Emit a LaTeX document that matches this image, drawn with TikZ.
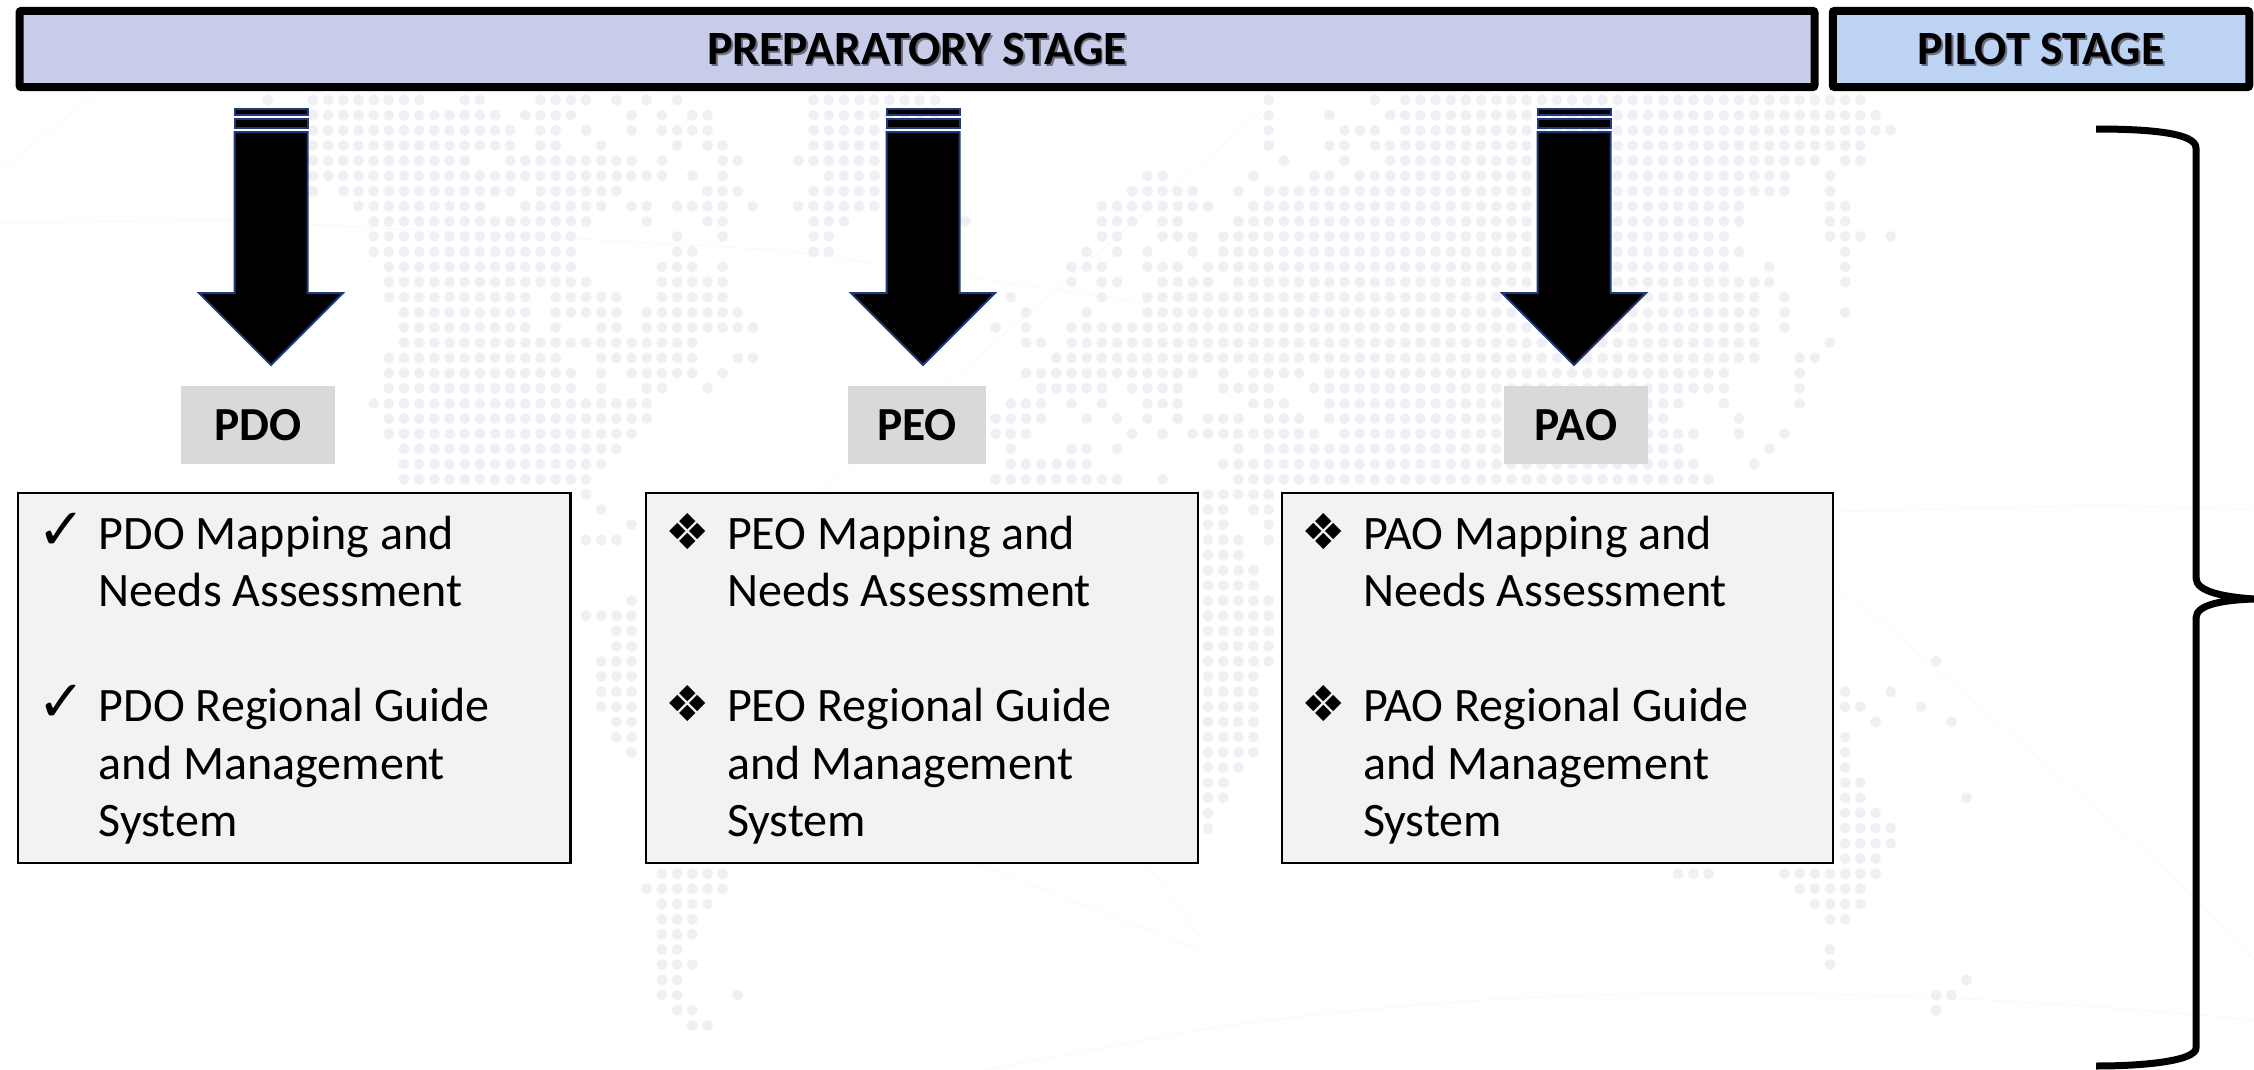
\documentclass[tikz,border=0pt]{standalone}
\usepackage{fontspec}
\setmainfont{Carlito}
\newfontfamily\symbolfont{DejaVu Sans}
\definecolor{prepfill}{HTML}{C7CCE8}
\definecolor{pilotfill}{HTML}{BDD3F3}
\definecolor{arrowline}{HTML}{1F3A7A}
\definecolor{labelfill}{HTML}{D9D9D9}
\definecolor{itemfill}{HTML}{F2F2F2}
\definecolor{mapdot}{HTML}{EFEFF5}
\definecolor{mapline}{HTML}{F9F9FA}
\definecolor{shadowgrey}{HTML}{6A6C7C}
\newcommand{\shadowed}[1]{\makebox[0pt][l]{\hspace{0.5pt}\raisebox{-0.6pt}{\textcolor{shadowgrey}{#1}}}#1}
\newcommand{\itemmark}[2]{\spaceskip=0.226em\relax\rule{0pt}{10.75pt}\makebox[16.4pt][l]{\hspace*{-1pt}\smash{\symbolfont\fontsize{#1}{16.36}\selectfont #2}}}
\newcommand{\itemgap}{\hspace*{16.4pt}}
\tikzset{
  banner/.style={draw=black,line width=0.8mm,rounded corners=0.2mm,inner sep=0,minimum height=7.63mm,text height=9.14pt,text depth=0.6pt,font=\fontsize{13.6}{16}\selectfont\bfseries},
  stagelabel/.style={fill=labelfill,inner sep=0,minimum height=7.8mm,font=\fontsize{13.5}{16}\selectfont\bfseries},
  itembox/.style={draw=black,line width=0.25mm,fill=itemfill,inner xsep=2.35mm,inner ysep=0,minimum height=37mm,align=left,font=\fontsize{13.67}{16.36}\selectfont},
  blockarrow/.style={draw=arrowline,line width=0.2mm,fill=black,miter limit=10}
}
\begin{document}
\begin{tikzpicture}[x=0.1mm,y=-0.1mm]
    \useasboundingbox (0,0) rectangle (2254,1070);
    \draw[mapline,line width=0.1mm] (0,170) -- (94,95);
    \draw[mapline,line width=0.1mm] (0,223) -- (234,220) -- (780,250) -- (1147,303);
    \draw[mapline,line width=0.1mm] (600,680) -- (940,390) -- (1263,110);
    \draw[mapline,line width=0.1mm] (1834,587) -- (1880,620) -- (2170,873) -- (2254,960);
    \draw[mapline,line width=0.1mm] (1834,512) -- (2106,505) -- (2254,510);
    \draw[mapline,line width=0.1mm] (967,860) -- (1200,950);
    \draw[mapline,line width=0.1mm] (1147,863) -- (1200,937);
    \draw[mapline,line width=0.1mm] (983,1070) -- (1200,1030) .. controls (1500,985) and (1830,980) .. (2254,1020);
    \foreach \rr/\ca/\cb in {
      0/-3/-3,0/0/7,0/10/11,0/15/18,0/20/20,0/22/22,0/24/24,0/33/41,0/63/63,0/70/70,0/72/102,
      1/0/12,1/14/17,1/21/21,1/23/23,1/25/26,1/33/41,1/63/63,1/67/67,1/71/103,
      2/0/13,2/15/16,2/18/18,2/21/21,2/23/26,2/33/38,2/63/63,2/68/70,2/72/104,
      3/0/13,3/15/16,3/19/19,3/24/24,3/26/27,3/33/37,3/63/63,3/67/68,3/70/102,
      4/0/10,4/13/21,4/23/23,4/27/28,4/32/37,4/64/64,4/68/68,4/71/99,4/101/102,
      5/0/23,5/25/25,5/27/27,5/34/37,5/55/56,5/62/62,5/66/67,5/69/97,5/100/100,
      6/0/0,6/2/13,6/15/20,6/26/28,6/33/37,6/54/58,6/61/61,6/63/97,6/100/100,
      7/3/11,7/14/19,7/21/22,7/24/27,7/29/29,7/32/37,7/52/59,7/62/94,7/100/101,
      8/4/18,8/22/22,8/26/27,8/33/35,8/43/43,8/52/54,8/56/57,8/61/94,8/100/101,
      9/4/17,9/24/24,9/27/27,9/33/34,9/52/53,9/56/58,9/60/93,9/100/102,9/104/104,
      10/4/17,10/24/25,10/33/34,10/51/51,10/53/53,10/55/55,10/58/58,10/60/94,10/101/101,
      11/5/17,11/23/25,11/27/27,11/50/52,11/55/57,11/59/93,11/96/96,11/101/101,
      12/5/18,12/23/27,12/50/50,12/52/53,12/56/59,12/61/96,12/101/101,
      13/5/14,13/16/20,13/23/27,13/46/46,13/52/52,13/55/95,13/97/97,
      14/6/14,14/16/20,14/22/28,14/47/47,14/51/51,14/55/95,14/97/97,14/101/101,
      15/6/14,15/16/16,15/19/20,15/22/29,15/45/45,15/47/47,15/50/95,15/97/97,
      16/6/25,16/47/48,16/50/95,16/100/100,
      17/5/16,17/19/25,17/28/29,17/49/95,17/98/99,
      18/5/17,18/19/19,18/21/25,18/27/27,18/47/58,18/60/60,18/62/65,18/67/93,18/98/98,
      19/5/17,19/19/19,19/22/23,19/26/26,19/48/52,19/54/57,19/60/63,19/66/93,19/98/98,
      20/4/22,20/46/48,20/50/50,20/52/52,20/55/57,20/62/64,20/67/90,20/93/93,20/98/98,
      21/5/22,21/45/48,21/51/51,21/53/53,21/55/55,21/57/57,21/59/61,21/63/65,21/67/89,21/94/94,
      22/5/21,22/45/47,22/54/54,22/56/56,22/58/66,22/68/91,22/94/94,22/97/97,
      23/6/20,23/46/46,23/50/51,23/53/53,23/61/61,23/63/90,23/96/96,
      24/6/19,24/46/51,24/60/91,24/95/95,
      25/6/18,25/45/53,25/56/56,25/61/92,
      26/18/18,26/59/63,27/19/19,27/59/60,27/62/63,28/21/21,28/59/60,28/63/63,
      29/18/20,29/59/61,29/63/63,30/59/61,31/59/62,32/59/62,33/21/21,33/59/63,
      34/18/21,34/59/63,35/20/21,35/59/63,36/20/21,36/59/63,37/19/21,37/59/63,37/107/107,
      38/19/21,38/59/62,39/19/21,39/59/62,39/101/101,39/104/104,40/19/21,40/59/62,40/101/102,40/106/106,
      41/20/21,41/59/62,41/103/103,41/108/108,42/20/21,42/59/62,42/101/101,43/21/21,43/59/62,43/101/101,
      44/59/61,44/101/101,45/59/60,45/101/102,46/59/60,46/101/102,46/109/109,47/59/59,47/101/103,
      48/59/59,48/101/104,49/101/104,50/23/29,50/55/57,50/90/92,50/101/103,
      51/23/27,51/90/92,51/97/103,52/22/27,52/98/102,53/23/26,53/99/102,54/23/25,54/100/101,
      55/23/25,56/23/24,56/100/100,57/23/25,57/100/100,58/23/24,58/109/109,59/23/24,59/28/28,59/107/108,
      60/24/25,60/107/107,61/25/26}{
      \foreach \cc in {\ca,...,\cb}{
        \fill[mapdot] ({313+15.17*\cc},{100+15.17*\rr}) circle[radius=5.5];
      }
    }
    \node[banner,fill=prepfill,minimum width=179.5mm] (prepstage) at (917,49) {\shadowed{PREPARATORY STAGE}};
    \node[banner,fill=pilotfill,minimum width=41.65mm] (pilotstage) at (2041,49) {\shadowed{PILOT STAGE}};
    \foreach \cx in {271,923,1574}{
      \draw[blockarrow] ({\cx-36.5},109) rectangle ({\cx+36.5},115);
      \draw[blockarrow] ({\cx-36.5},119) rectangle ({\cx+36.5},128);
      \draw[blockarrow] ({\cx-36.5},132) -- ({\cx+36.5},132) -- ({\cx+36.5},293) -- ({\cx+72},293)
        -- (\cx,365) -- ({\cx-72},293) -- ({\cx-36.5},293) -- cycle;
    }
    \node[stagelabel,minimum width=15.4mm] (pdolabel) at (258,425) {PDO};
    \node[stagelabel,minimum width=13.8mm] (peolabel) at (917,425) {PEO};
    \node[stagelabel,minimum width=14.4mm] (paolabel) at (1576,425) {PAO};
    \node[itembox,text width=50.55mm] (pdoitems) at (294,678) {\itemmark{16.4}{✓}PDO Mapping and\\\itemgap Needs Assessment\\[16.36pt]\itemmark{16.4}{✓}PDO Regional Guide\\\itemgap and Management\\\itemgap System};
    \node[itembox,text width=50.5mm] (peoitems) at (922,678) {\itemmark{14.1}{❖}PEO Mapping and\\\itemgap Needs Assessment\\[16.36pt]\itemmark{14.1}{❖}PEO Regional Guide\\\itemgap and Management\\\itemgap System};
    \node[itembox,text width=50.4mm] (paoitems) at (1557.5,678) {\itemmark{14.1}{❖}PAO Mapping and\\\itemgap Needs Assessment\\[16.36pt]\itemmark{14.1}{❖}PAO Regional Guide\\\itemgap and Management\\\itemgap System};
    \draw[line width=0.7mm] (2096,129) .. controls (2150,129) and (2196,133) .. (2196,148) -- (2196,578)
      .. controls (2196,592) and (2225,597) .. (2254,599) .. controls (2225,600) and (2196,604) .. (2196,618)
      -- (2196,1048) .. controls (2196,1060) and (2150,1066) .. (2096,1066);
  \end{tikzpicture}
\end{document}
